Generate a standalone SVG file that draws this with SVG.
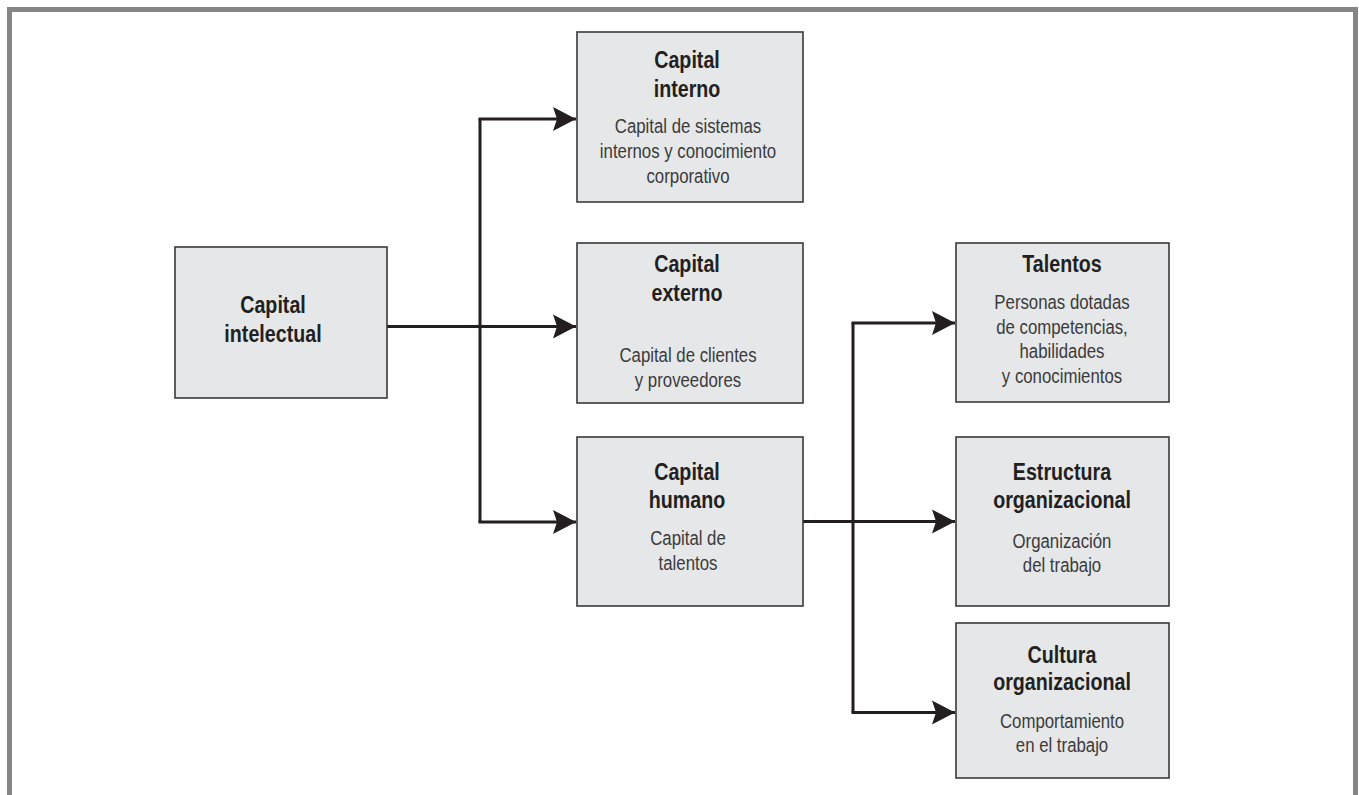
<svg xmlns="http://www.w3.org/2000/svg" width="1359" height="795" viewBox="0 0 1359 795">
<style>
.box{fill:#e6e7e8;stroke:#3a3a3a;stroke-width:1.6}
.t{font-family:"Liberation Sans",Arial,sans-serif;font-weight:bold;font-size:24px;fill:#231f20;text-anchor:middle}
.b{font-family:"Liberation Sans",Arial,sans-serif;font-size:21px;fill:#3b3b3b;text-anchor:middle}
.c{stroke:#231f20;stroke-width:3;fill:none}
.a{stroke:#231f20;stroke-width:3;fill:none;marker-end:url(#ah)}
</style>
<defs>
<marker id="ah" markerUnits="userSpaceOnUse" viewBox="-1 -13 26 26" markerWidth="26" markerHeight="26" refX="23" refY="0" orient="auto">
<path d="M0,-12 L23,0 L0,12 L4,0 Z" fill="#231f20"/>
</marker>
</defs>
<rect x="0" y="0" width="1359" height="795" fill="#ffffff"/>
<rect id="frame" x="9.5" y="9.5" width="1346" height="800" fill="#ffffff" stroke="#858585" stroke-width="5"/>
<g id="connectors">
<line class="c" x1="387" y1="326.5" x2="480" y2="326.5"/>
<line class="a" x1="480" y1="326.5" x2="576" y2="326.5"/>
<line class="c" x1="480" y1="119" x2="480" y2="522"/>
<line class="a" x1="478.5" y1="119" x2="576" y2="119"/>
<line class="a" x1="478.5" y1="522" x2="576" y2="522"/>
<line class="a" x1="803" y1="521.5" x2="955" y2="521.5"/>
<line class="c" x1="853" y1="323" x2="853" y2="712.5"/>
<line class="a" x1="851.5" y1="323" x2="955" y2="323"/>
<line class="a" x1="851.5" y1="712.5" x2="955" y2="712.5"/>
</g>
<g id="capital-intelectual">
<rect class="box" x="175" y="247" width="212" height="151"/>
<g transform="translate(273 0) scale(0.82 1)">
<text class="t" x="0" y="313">Capital</text>
<text class="t" x="0" y="342">intelectual</text>
</g>
</g>
<g id="capital-interno">
<rect class="box" x="577" y="32" width="226" height="170"/>
<g transform="translate(687 0) scale(0.82 1)">
<text class="t" x="0" y="68">Capital</text>
<text class="t" x="0" y="97">interno</text>
</g>
<g transform="translate(688 0) scale(0.8 1)">
<text class="b" x="0" y="133">Capital de sistemas</text>
<text class="b" x="0" y="158">internos y conocimiento</text>
<text class="b" x="0" y="183">corporativo</text>
</g>
</g>
<g id="capital-externo">
<rect class="box" x="577" y="243" width="226" height="160"/>
<g transform="translate(687 0) scale(0.82 1)">
<text class="t" x="0" y="272">Capital</text>
<text class="t" x="0" y="301">externo</text>
</g>
<g transform="translate(688 0) scale(0.8 1)">
<text class="b" x="0" y="362">Capital de clientes</text>
<text class="b" x="0" y="387">y proveedores</text>
</g>
</g>
<g id="capital-humano">
<rect class="box" x="577" y="437" width="226" height="169"/>
<g transform="translate(687 0) scale(0.82 1)">
<text class="t" x="0" y="480">Capital</text>
<text class="t" x="0" y="508">humano</text>
</g>
<g transform="translate(688 0) scale(0.8 1)">
<text class="b" x="0" y="545">Capital de</text>
<text class="b" x="0" y="570">talentos</text>
</g>
</g>
<g id="talentos">
<rect class="box" x="956" y="243" width="213" height="159"/>
<g transform="translate(1062 0) scale(0.82 1)">
<text class="t" x="0" y="272">Talentos</text>
</g>
<g transform="translate(1062 0) scale(0.8 1)">
<text class="b" x="0" y="309">Personas dotadas</text>
<text class="b" x="0" y="334">de competencias,</text>
<text class="b" x="0" y="358">habilidades</text>
<text class="b" x="0" y="383">y conocimientos</text>
</g>
</g>
<g id="estructura-organizacional">
<rect class="box" x="956" y="437" width="213" height="169"/>
<g transform="translate(1062 0) scale(0.82 1)">
<text class="t" x="0" y="480">Estructura</text>
<text class="t" x="0" y="508">organizacional</text>
</g>
<g transform="translate(1062 0) scale(0.8 1)">
<text class="b" x="0" y="548">Organización</text>
<text class="b" x="0" y="572">del trabajo</text>
</g>
</g>
<g id="cultura-organizacional">
<rect class="box" x="956" y="623" width="213" height="155"/>
<g transform="translate(1062 0) scale(0.82 1)">
<text class="t" x="0" y="663">Cultura</text>
<text class="t" x="0" y="690">organizacional</text>
</g>
<g transform="translate(1062 0) scale(0.8 1)">
<text class="b" x="0" y="728">Comportamiento</text>
<text class="b" x="0" y="752">en el trabajo</text>
</g>
</g>
</svg>
